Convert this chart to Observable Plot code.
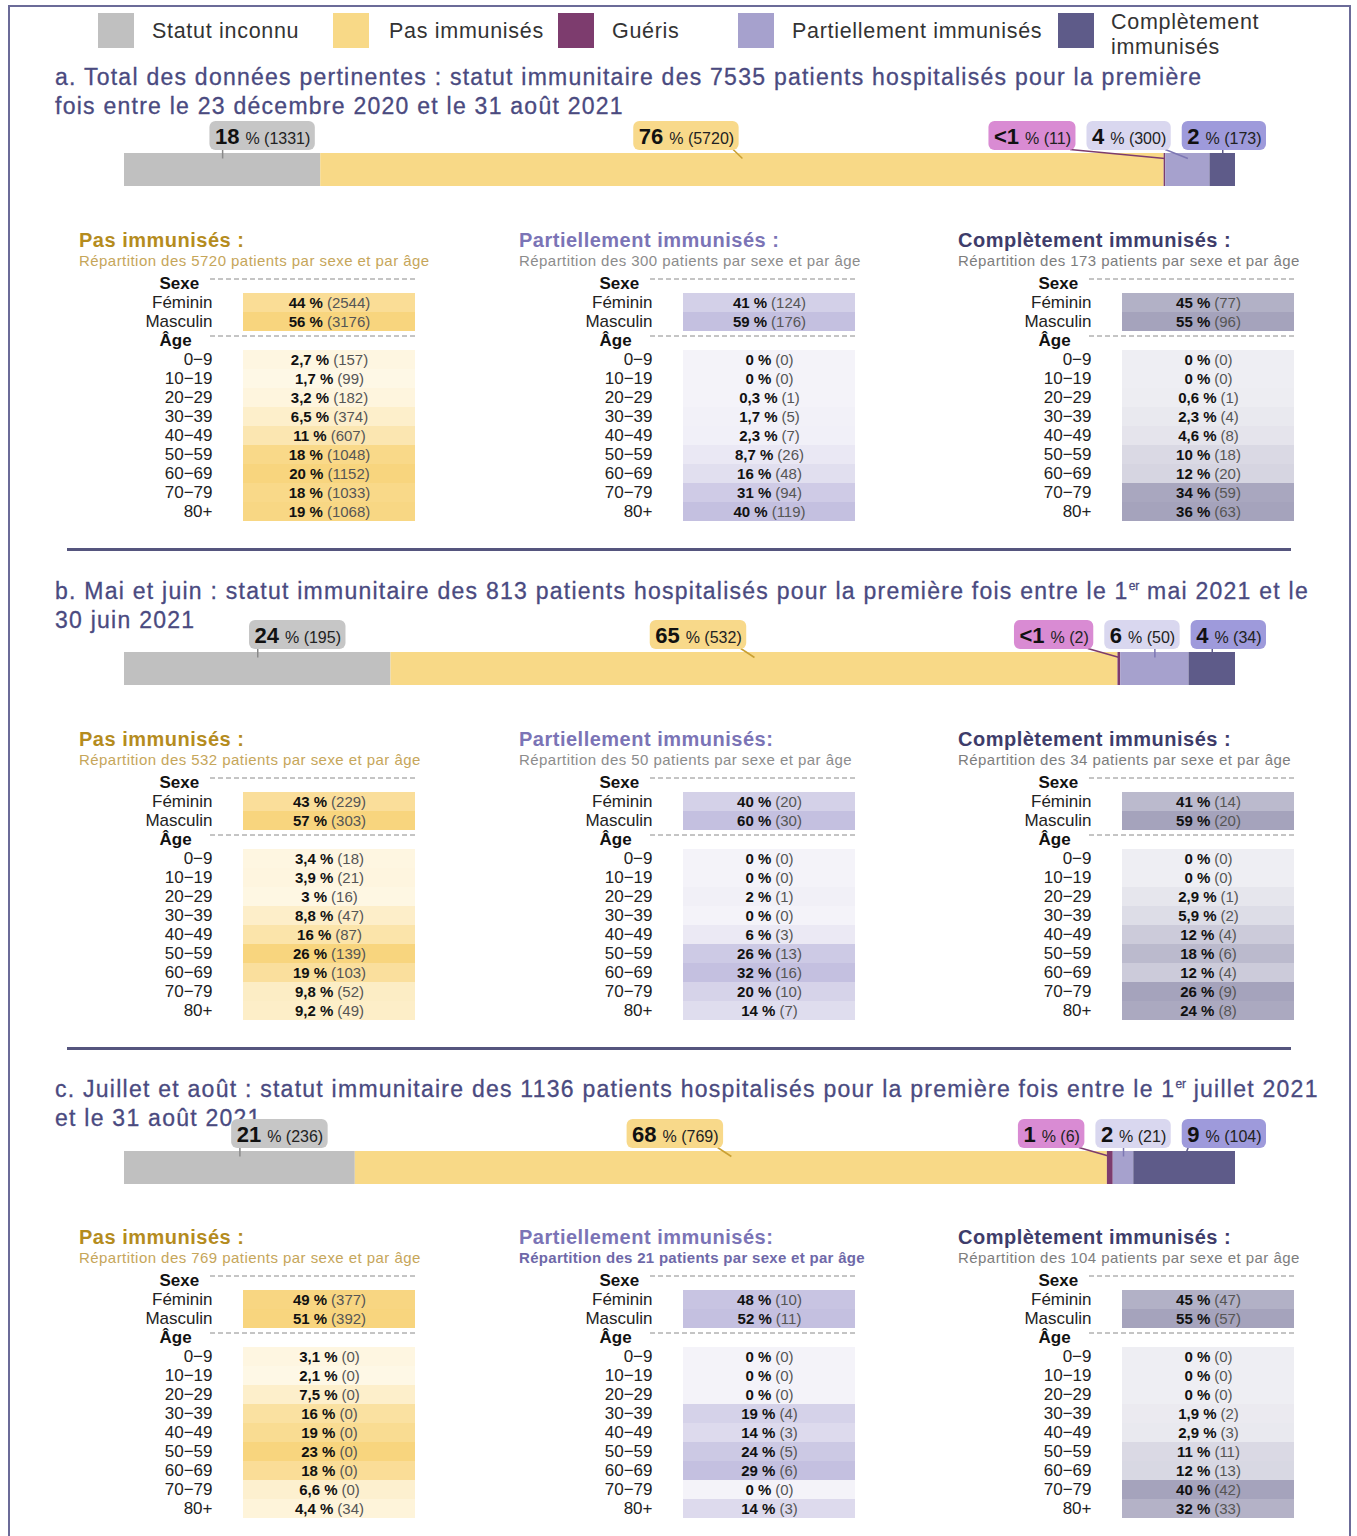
<!DOCTYPE html>
<html><head><meta charset="utf-8">
<script src="https://cdn.jsdelivr.net/npm/d3@7"></script>
<script src="https://cdn.jsdelivr.net/npm/@observablehq/plot@0.6"></script>
<style>
body{margin:0;background:#fff;font-family:"Liberation Sans",Arial,sans-serif;}
#page{position:relative;width:1357px;height:1536px;overflow:hidden;background:#fff;}
.abs{position:absolute;overflow:visible;}
.abs svg{max-width:none !important;}
.frame{position:absolute;left:8px;top:5px;width:1343px;height:1580px;border:2px solid #6b6b98;box-sizing:border-box;}
.sw{position:absolute;width:36px;height:35px;top:13px;}
.lg{position:absolute;font-size:21.5px;letter-spacing:0.7px;color:#333;line-height:25px;white-space:nowrap;}
.stitle{position:absolute;left:55px;font-size:23px;line-height:29px;color:#4a4a80;letter-spacing:1.25px;white-space:nowrap;-webkit-text-stroke:0.3px #4a4a80;}
.stitle sup{font-size:12px;vertical-align:9px;line-height:0;letter-spacing:0;}
.sep{position:absolute;left:67px;width:1224px;height:3px;background:#55557e;}
.ttitle{position:absolute;font-size:20px;letter-spacing:0.5px;font-weight:bold;line-height:22px;white-space:nowrap;}
.tsub{position:absolute;font-size:15px;line-height:18px;white-space:nowrap;}
</style></head>
<body><div id="page"></div>
<script>
// ---------- DATA ----------
const statuses = ["Statut inconnu", "Pas immunisés", "Guéris", "Partiellement immunisés", "Complètement immunisés"];
const sexCats = ["Féminin", "Masculin"];
const ageCats = ["0−9", "10−19", "20−29", "30−39", "40−49", "50−59", "60−69", "70−79", "80+"];

const barCountsA = [1331, 5720, 11, 300, 173];
const barPctA = ["18", "76", "<1", "4", "2"];
const barCountsB = [195, 532, 2, 50, 34];
const barPctB = ["24", "65", "<1", "6", "4"];
const barCountsC = [236, 769, 6, 21, 104];
const barPctC = ["21", "68", "1", "2", "9"];

// table values: 2 sex rows then 9 age rows
const pctA_pas = ["44", "56", "2,7", "1,7", "3,2", "6,5", "11", "18", "20", "18", "19"];
const nA_pas = [2544, 3176, 157, 99, 182, 374, 607, 1048, 1152, 1033, 1068];
const pctA_part = ["41", "59", "0", "0", "0,3", "1,7", "2,3", "8,7", "16", "31", "40"];
const nA_part = [124, 176, 0, 0, 1, 5, 7, 26, 48, 94, 119];
const pctA_comp = ["45", "55", "0", "0", "0,6", "2,3", "4,6", "10", "12", "34", "36"];
const nA_comp = [77, 96, 0, 0, 1, 4, 8, 18, 20, 59, 63];

const pctB_pas = ["43", "57", "3,4", "3,9", "3", "8,8", "16", "26", "19", "9,8", "9,2"];
const nB_pas = [229, 303, 18, 21, 16, 47, 87, 139, 103, 52, 49];
const pctB_part = ["40", "60", "0", "0", "2", "0", "6", "26", "32", "20", "14"];
const nB_part = [20, 30, 0, 0, 1, 0, 3, 13, 16, 10, 7];
const pctB_comp = ["41", "59", "0", "0", "2,9", "5,9", "12", "18", "12", "26", "24"];
const nB_comp = [14, 20, 0, 0, 1, 2, 4, 6, 4, 9, 8];

const pctC_pas = ["49", "51", "3,1", "2,1", "7,5", "16", "19", "23", "18", "6,6", "4,4"];
const nC_pas = [377, 392, 0, 0, 0, 0, 0, 0, 0, 0, 34];
const pctC_part = ["48", "52", "0", "0", "0", "19", "14", "24", "29", "0", "14"];
const nC_part = [10, 11, 0, 0, 0, 4, 3, 5, 6, 0, 3];
const pctC_comp = ["45", "55", "0", "0", "0", "1,9", "2,9", "11", "12", "40", "32"];
const nC_comp = [47, 57, 0, 0, 0, 2, 3, 11, 13, 42, 33];

const sectionTitles = [
  "a. Total des données pertinentes : statut immunitaire des 7535 patients hospitalisés pour la première<br>fois entre le 23 décembre 2020 et le 31 août 2021",
  "b. Mai et juin : statut immunitaire des 813 patients hospitalisés pour la première fois entre le 1<sup>er</sup> mai 2021 et le<br>30 juin 2021",
  "c. Juillet et août : statut immunitaire des 1136 patients hospitalisés pour la première fois entre le 1<sup>er</sup> juillet 2021<br>et le 31 août 2021"
];

// ---------- STYLES / LAYOUT ----------
const FONT = '"Liberation Sans", Arial, sans-serif';
const statusColors = ["#c0c0c0", "#f8d987", "#7d3c6e", "#a6a1cd", "#5e5b89"];
const boxColors = ["#c6c6c6", "#f8d98a", "#d98bd3", "#d9d7ef", "#9e9adb"];
const lineColors = ["#8a8a8a", "#c9a033", "#7d3c6e", "#7d77b3", "#5e5b89"];
const labelNudge = [40, -56, 0, 0, 0];   // px nudges of the label boxes
const legendX = [98, 333, 558, 738, 1058];
const tableSchemes = [
  {key: 1, title: "Pas immunisés :", titleColor: "#b58c1e", subColor: "#c6a65a", range: ["#fffbf0", "#f8d57e"]},
  {key: 3, title: "Partiellement immunisés :", titleColor: "#7b74b6", subColor: "#8c8c8c", range: ["#f4f3f9", "#c4c0e0"]},
  {key: 4, title: "Complètement immunisés :", titleColor: "#3e3c6a", subColor: "#7d7d7d", range: ["#eeeef3", "#a5a3bc"]}
];
const colLeft = [79, 519, 958];
const sectionLayout = [
  {titleTop: 63, barTop: 153, tTitle: 229, rowsTop: 272},
  {titleTop: 577, barTop: 652, tTitle: 728, rowsTop: 771},
  {titleTop: 1075, barTop: 1151, tTitle: 1226, rowsTop: 1269}
];
const sections = [
  {counts: barCountsA, pcts: barPctA, tables: [[pctA_pas, nA_pas], [pctA_part, nA_part], [pctA_comp, nA_comp]], partTitle: "Partiellement immunisés :", partSubBold: false},
  {counts: barCountsB, pcts: barPctB, tables: [[pctB_pas, nB_pas], [pctB_part, nB_part], [pctB_comp, nB_comp]], partTitle: "Partiellement immunisés:", partSubBold: false},
  {counts: barCountsC, pcts: barPctC, tables: [[pctC_pas, nC_pas], [pctC_part, nC_part], [pctC_comp, nC_comp]], partTitle: "Partiellement immunisés:", partSubBold: true}
];

const page = document.getElementById("page");
const ctx = document.createElement("canvas").getContext("2d");
function measure(text, font) { ctx.font = font; return ctx.measureText(text).width; }
function add(html, cls, style) {
  const d = document.createElement("div");
  d.className = cls; d.innerHTML = html; Object.assign(d.style, style || {});
  page.appendChild(d); return d;
}

// frame
add("", "frame");

// legend
statuses.forEach((s, i) => {
  add("", "sw", {left: legendX[i] + "px", background: statusColors[i]});
  const label = i === 4 ? "Complètement<br>immunisés" : s;
  add(label, "lg", {left: (legendX[i] + (i === 4 ? 53 : i === 1 ? 56 : 54)) + "px", top: (i === 4 ? 10 : 19) + "px"});
});

// separators
[549, 1048].forEach(y => add("", "sep", {top: (y - 1) + "px"}));

// ---------- BAR CHART ----------
function barChart(counts, pcts) {
  const total = d3.sum(counts);
  const X0 = 124, X1 = 1235, LIMIT = 1266, GAP = 11;
  const pxPer = (X1 - X0) / total;
  let cum = 0;
  const segs = counts.map((n, i) => {
    const s = {i, status: statuses[i], n, pct: pcts[i], x1: cum, x2: cum + n};
    cum += n; return s;
  });
  segs.forEach(s => {
    s.w1 = measure(s.pct, `bold 22px ${FONT}`);
    s.w2 = measure(`% (${s.n})`, `16px ${FONT}`);
    s.w = s.w1 + 6 + s.w2 + 10;
    s.mid = (s.x1 + s.x2) / 2;
  });
  const c = segs.map((s, k) => X0 + s.mid * pxPer + labelNudge[k]);
  for (let k = 1; k < segs.length; k++) {
    const minC = c[k - 1] + segs[k - 1].w / 2 + GAP + segs[k].w / 2;
    if (c[k] < minC) c[k] = minC;
  }
  const L = segs.length - 1;
  if (c[L] + segs[L].w / 2 > LIMIT) c[L] = LIMIT - segs[L].w / 2;
  for (let k = L - 1; k >= 0; k--) {
    const maxC = c[k + 1] - segs[k + 1].w / 2 - GAP - segs[k].w / 2;
    if (c[k] > maxC) c[k] = maxC;
  }
  segs.forEach((s, k) => {
    const lc = (c[k] - X0) / pxPer;
    s.bl = lc - s.w / 2 / pxPer;
    s.br = lc + s.w / 2 / pxPer;
    s.tx = s.bl + 5 / pxPer;
    s.tx2 = s.tx + (s.w1 + 6) / pxPer;
    s.ax = Math.max(s.bl + 6 / pxPer, Math.min(s.br - 6 / pxPer, s.mid));
  });
  return Plot.plot({
    width: 1357, height: 72,
    marginLeft: X0, marginRight: 1357 - X1, marginTop: 0, marginBottom: 0,
    x: {domain: [0, total], axis: null},
    y: {domain: [0, 72], range: [0, 72], axis: null},
    style: {fontFamily: FONT, background: "transparent", overflow: "visible"},
    marks: [
      Plot.rect(segs, {x1: "x1", x2: "x2", y1: () => 36, y2: () => 69, fill: d => statusColors[d.i]}),
      Plot.link(segs, {x1: "ax", y1: () => 32, x2: "mid", y2: () => 41, stroke: d => lineColors[d.i], strokeWidth: 1.5}),
      Plot.rect(segs, {x1: "bl", x2: "br", y1: () => 4, y2: () => 33, fill: d => boxColors[d.i], rx: 6}),
      Plot.text(segs, {x: "tx", y: () => 26, text: "pct", textAnchor: "start", lineAnchor: "bottom", fontSize: 22, fontWeight: "bold", fill: "#111"}),
      Plot.text(segs, {x: "tx2", y: () => 26, text: d => `% (${d.n})`, textAnchor: "start", lineAnchor: "bottom", fontSize: 16, fill: "#222"})
    ]
  });
}

// ---------- TABLE ----------
const rows = ["Sexe", ...sexCats, "Âge", ...ageCats];
const CELLW = 172, TW = 345;
function table(pcts, counts, scheme) {
  const data = pcts.map((p, k) => ({
    row: k < 2 ? sexCats[k] : ageCats[k - 2], group: k < 2 ? "sexe" : "age",
    p, v: +p.replace(",", "."), n: counts[k]
  }));
  const maxS = d3.max(data.filter(d => d.group === "sexe"), d => d.v);
  const maxA = d3.max(data.filter(d => d.group === "age"), d => d.v);
  data.forEach(d => {
    d.t = d.v / (d.group === "sexe" ? maxS : maxA);
    d.w1 = measure(d.p + " %", `bold 15px ${FONT}`);
    d.w2 = measure(`(${d.n})`, `15px ${FONT}`);
    const W = d.w1 + 4 + d.w2;
    d.xa = 0.5 + (-W / 2 + d.w1) / CELLW;
    d.xb = d.xa + 4 / CELLW;
  });
  return Plot.plot({
    width: TW, height: 250,
    marginLeft: 164, marginRight: TW - 164 - CELLW, marginTop: 0, marginBottom: 0,
    x: {domain: [0, 1], axis: null},
    y: {domain: rows, axis: null, padding: 0},
    color: {type: "linear", domain: [0, 1], range: scheme.range},
    style: {fontFamily: FONT, background: "transparent", overflow: "visible"},
    marks: [
      Plot.barX(data, {x1: () => 0, x2: () => 1, y: "row", fill: "t"}),
      Plot.ruleY(["Sexe", "Âge"], {y: d => d, insetLeft: -33, insetRight: -3, dy: -5, stroke: "#8a8a8a", strokeDasharray: "5,3", strokeWidth: 1}),
      Plot.text([...sexCats, ...ageCats], {x: () => 0, y: d => d, text: d => d, dx: -31, textAnchor: "end", fontSize: 17, fill: "#222"}),
      Plot.text(["Sexe", "Âge"], {x: () => 0, y: d => d, text: d => d, dx: -84, textAnchor: "start", fontSize: 17, fontWeight: "bold", fill: "#111"}),
      Plot.text(data, {x: "xa", y: "row", text: d => d.p + " %", textAnchor: "end", fontSize: 15, fontWeight: "bold", fill: "#111"}),
      Plot.text(data, {x: "xb", y: "row", text: d => `(${d.n})`, textAnchor: "start", fontSize: 15, fill: "#555"})
    ]
  });
}

// ---------- ASSEMBLE ----------
sections.forEach((sec, si) => {
  const lay = sectionLayout[si];
  add(sectionTitles[si], "stitle", {top: lay.titleTop + "px"});
  const bar = barChart(sec.counts, sec.pcts);
  const bw = add("", "abs", {left: "0px", top: (lay.barTop - 36) + "px", width: "1357px"});
  bw.appendChild(bar);
  tableSchemes.forEach((sch, ci) => {
    const title = ci === 1 ? sec.partTitle : sch.title;
    add(title, "ttitle", {left: colLeft[ci] + "px", top: lay.tTitle + "px", color: sch.titleColor});
    const bold = ci === 1 && sec.partSubBold;
    add(`Répartition des ${sec.counts[sch.key]} patients par sexe et par âge`, "tsub",
      {left: colLeft[ci] + "px", top: (lay.tTitle + 23) + "px", color: bold ? "#6e68a8" : sch.subColor, fontWeight: bold ? "bold" : "normal", letterSpacing: bold ? "0.3px" : "0.45px"});
    const [p, n] = sec.tables[ci];
    const t = table(p, n, sch);
    const tw = add("", "abs", {left: colLeft[ci] + "px", top: lay.rowsTop + "px", width: TW + "px"});
    tw.appendChild(t);
  });
});
</script></body></html>
